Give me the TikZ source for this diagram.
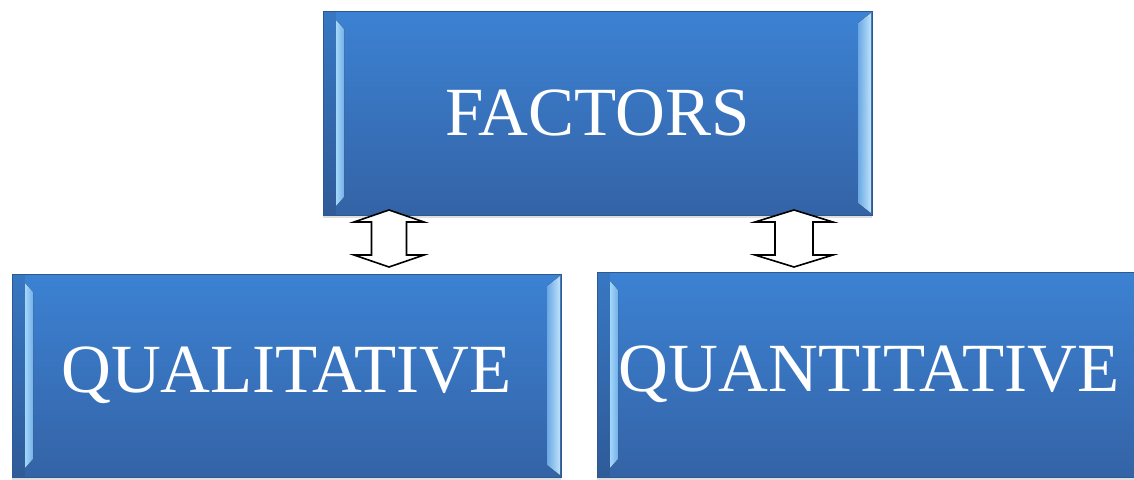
\documentclass[tikz,border=0pt]{standalone}
\usepackage{fontspec}
\setmainfont{Liberation Serif}
\usetikzlibrary{calc,shadows}

\definecolor{boxtop}{HTML}{3C82D3}
\definecolor{boxbot}{HTML}{3463A6}
\definecolor{boxedge}{HTML}{2D5890}
\definecolor{bevel}{HTML}{A2D6FA}

\tikzset{
  boxtext/.style={text=white, font=\fontsize{69}{72}\selectfont, inner sep=0pt},
  factorbox/.style={
    boxtext,
    draw=boxedge, line width=1pt,
    top color=boxtop, bottom color=boxbot,
    minimum width=549pt, minimum height=204pt,
    drop shadow={shadow xshift=0pt, shadow yshift=-3pt, opacity=0.25},
    path picture={
      % darker band along the left edge
      \fill[black, opacity=0.08]
        (path picture bounding box.north west) rectangle
        ($(path picture bounding box.south west)+(13,0)$);
      % left bevel strip
      \fill[left color=bevel, right color=bevel!55!boxtop]
        ($(path picture bounding box.north west)+(13,9)$) --
        ($(path picture bounding box.north west)+(21,18)$) --
        ($(path picture bounding box.south west)+(21,-18)$) --
        ($(path picture bounding box.south west)+(13,-9)$) -- cycle;
      % right bevel strip
      \fill[left color=bevel!45!boxtop, right color=bevel!70!white]
        ($(path picture bounding box.north east)+(-1,2)$) --
        ($(path picture bounding box.north east)+(-14,12)$) --
        ($(path picture bounding box.south east)+(-14,-12)$) --
        ($(path picture bounding box.south east)+(-1,-2)$) -- cycle;
    }
  },
  blockarrow/.style={draw=black, line width=1.6pt, fill=white, line join=miter}
}

% hollow double-headed block arrow around a centre coordinate
\newcommand\dblblockarrow[3]{%
  \draw[blockarrow]
    ($(#1)+(0,-28.5)$) -- ($(#1)+(#2,-16.5)$) -- ($(#1)+(#3,-16.5)$) --
    ($(#1)+(#3,16.5)$) -- ($(#1)+(#2,16.5)$) -- ($(#1)+(0,28.5)$) --
    ($(#1)+(-#2,16.5)$) -- ($(#1)+(-#3,16.5)$) -- ($(#1)+(-#3,-16.5)$) --
    ($(#1)+(-#2,-16.5)$) -- cycle;}

\begin{document}
\begin{tikzpicture}[x=1pt, y=-1pt]
  \useasboundingbox (0,0) rectangle (1134,479);
  \fill[white] (0,0) rectangle (1134,479);

  \node[factorbox] (factors) at (597.5,113) {FACTORS};
  \node[factorbox, minimum height=203pt] (qual) at (286.5,375.5) {QUALITATIVE};
  % this box runs past the right margin
  \node[factorbox, minimum width=570pt, minimum height=205pt] (quant) at (882,374.5) {};
  \node[boxtext] (quanttext) at ($(quant)+(-13,0)$) {QUANTITATIVE};

  \coordinate (a1) at (389,238.5);
  \coordinate (a2) at (794,238.5);
  \dblblockarrow{a1}{35}{17.5}
  \dblblockarrow{a2}{39}{19}
\end{tikzpicture}
\end{document}
